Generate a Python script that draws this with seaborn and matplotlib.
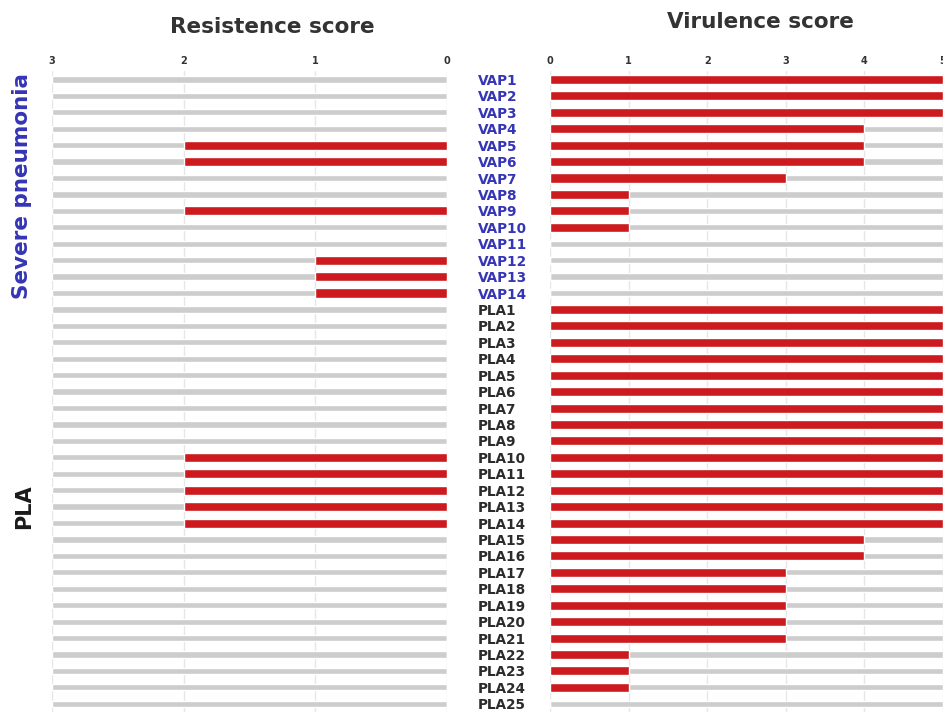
import numpy as np
import pandas as pd
import matplotlib
matplotlib.use("Agg")
import matplotlib.pyplot as plt
import matplotlib.transforms as mtransforms
import seaborn as sns

# 데이터
vap = [f"VAP{i}" for i in range(1, 15)]
pla = [f"PLA{i}" for i in range(1, 26)]
samples = vap + pla

resistance = [0, 0, 0, 0, 2, 2, 0, 0, 2, 0, 0, 1, 1, 1,
              0, 0, 0, 0, 0, 0, 0, 0, 0, 2, 2, 2, 2, 2,
              0, 0, 0, 0, 0, 0, 0, 0, 0, 0, 0]
virulence = [5, 5, 5, 4, 4, 4, 3, 1, 1, 1, 0, 0, 0, 0,
             5, 5, 5, 5, 5, 5, 5, 5, 5, 5, 5, 5, 5, 5,
             4, 4, 3, 3, 3, 3, 3, 1, 1, 1, 0]
res_max = 3
vir_max = 5

df = pd.DataFrame({"sample": samples, "res": resistance, "vir": virulence})
df["res_bg"] = res_max
df["vir_bg"] = vir_max

RED = "#cc1a1f"
GRAY = "#cdcdcd"
BLUE = "#3535b5"

sns.set_style("white")
plt.rcParams["font.family"] = ["DejaVu Sans"]

fig = plt.figure(figsize=(9.43, 7.12), dpi=100)
ax_l = fig.add_axes([52 / 943, 0.0, 395 / 943, 0.9])
ax_r = fig.add_axes([550 / 943, 0.0, 393 / 943, 0.9])

for ax, bg, col, vmax in [(ax_l, "res_bg", "res", res_max), (ax_r, "vir_bg", "vir", vir_max)]:
    sns.barplot(data=df, x=bg, y="sample", order=samples, color=GRAY,
                width=0.38, orient="h", ax=ax, zorder=2, saturation=1)
    sns.barplot(data=df, x=col, y="sample", order=samples, color=RED,
                width=0.55, orient="h", ax=ax, zorder=3, saturation=1)
    ax.set_ylim(len(samples) - 0.5, -0.5)
    ax.set_xticks(range(vmax + 1))
    ax.xaxis.tick_top()
    ax.tick_params(axis="x", length=0, pad=4, labelsize=7, labelcolor="#333333")
    for t in ax.get_xticklabels():
        t.set_fontweight("bold")
    ax.grid(axis="x", color="#e6e6e6", lw=1, zorder=0)
    ax.set_axisbelow(True)
    ax.set_xlabel("")
    ax.set_ylabel("")
    sns.despine(ax=ax, left=True, bottom=True)

ax_l.set_xlim(res_max, 0)
ax_l.set_yticks([])
ax_r.set_xlim(0, vir_max)

ax_r.set_yticks(range(len(samples)))
ax_r.set_yticklabels(samples)
ax_r.tick_params(axis="y", length=0, pad=52, labelsize=9.8)
for t, s in zip(ax_r.get_yticklabels(), samples):
    t.set_horizontalalignment("left")
    t.set_fontweight("bold")
    t.set_color(BLUE if s.startswith("VAP") else "#2b2b2b")

fig.text(272 / 943, 1 - 27 / 712, "Resistence score", ha="center", va="center",
         fontsize=15.5, fontweight="bold", color="#333333")
fig.text(760 / 943, 1 - 22 / 712, "Virulence score", ha="center", va="center",
         fontsize=15.5, fontweight="bold", color="#333333")

trans = mtransforms.blended_transform_factory(fig.transFigure, ax_l.transData)
ax_l.text(22 / 943, (len(vap) - 1) / 2, "Severe pneumonia", transform=trans,
          rotation=90, ha="center", va="center", fontsize=15.5,
          fontweight="bold", color=BLUE)
ax_l.text(24 / 943, len(vap) + (len(pla) - 1) / 2, "PLA", transform=trans,
          rotation=90, ha="center", va="center", fontsize=15,
          fontweight="bold", color="#1a1a1a")

fig.savefig("out.png", dpi=100)
